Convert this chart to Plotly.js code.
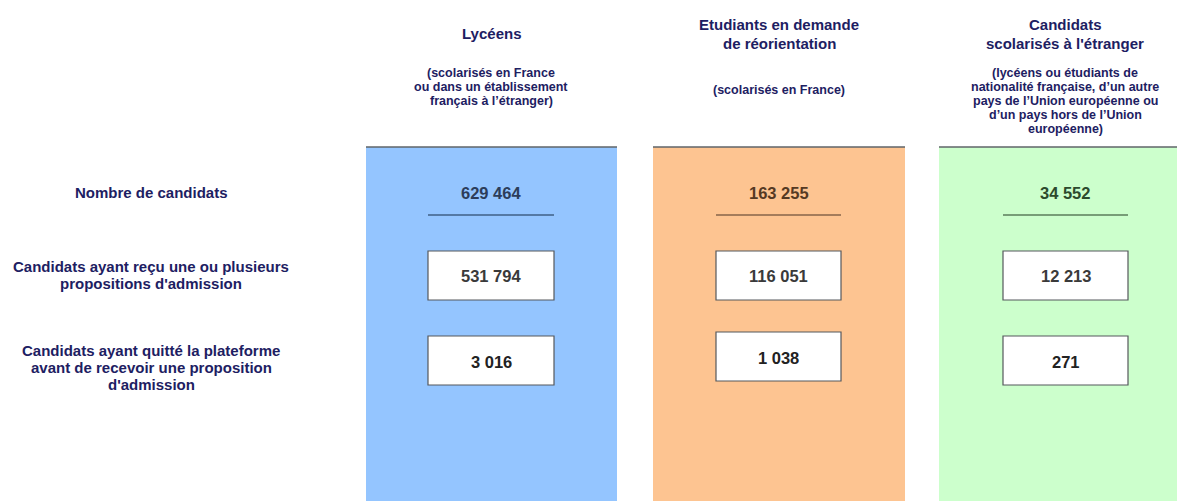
<!DOCTYPE html>
<html>
<head>
<meta charset="utf-8">
<script src="https://cdn.plot.ly/plotly-3.0.1.min.js"></script>
<style>html,body{margin:0;padding:0;background:#fff;}#chart{width:1177px;height:501px;}</style>
</head>
<body>
<div id="chart"></div>
<script>
// ---- Data ----
const groupHeaders = [
  ['Lycéens'],
  ['Etudiants en demande', 'de réorientation'],
  ['Candidats', 'scolarisés à l\'étranger']
];
const groupSubtitles = [
  ['(scolarisés en France', 'ou dans un établissement', 'français à l\u2019étranger)'],
  ['(scolarisés en France)'],
  ['(lycéens ou étudiants de', 'nationalité française, d\u2019un autre', 'pays de l\u2019Union européenne ou', 'd\u2019un pays hors de l\u2019Union', 'européenne)']
];
const rowLabels = [
  ['Nombre de candidats'],
  ['Candidats ayant reçu une ou plusieurs', 'propositions d\'admission'],
  ['Candidats ayant quitté la plateforme', 'avant de recevoir une proposition', 'd\'admission']
];
const nombreCandidats = [629464, 163255, 34552];
const recuProposition = [531794, 116051, 12213];
const quitteAvant = [3016, 1038, 271];

// ---- Styles / layout geometry ----
const W = 1177, H = 501;
const FONT = 'Liberation Sans, Arial, sans-serif';
const colFill = ['#94c5ff', '#fdc491', '#ccffcc'];
const lineCol = ['#3f5f86', '#86654a', '#5b7d5b'];
const numCol = ['#2c3d5a', '#553923', '#2c4a2c'];
const navy = '#1d2062';
const colX0 = [366, 653, 939];
const colX1 = [617, 905, 1190];
const colCenter = [491, 779, 1065];
const boxX0 = [428, 716, 1003];
const boxX1 = [554, 841, 1128];
const box2Y = [[336, 385], [332, 381], [336, 385]];
const colTop = 147;

function fmt(n) { return String(n).replace(/\B(?=(\d{3})+(?!\d))/g, ' '); }

const shapes = [];
const annotations = [];
function addText(x, y, text, size, color, bold) {
  annotations.push({
    x: x, y: y, xref: 'x', yref: 'y', text: bold ? '<b>' + text + '</b>' : text,
    showarrow: false, xanchor: 'center', yanchor: 'middle',
    font: {family: FONT, size: size, color: color}
  });
}

for (let i = 0; i < 3; i++) {
  // column background
  shapes.push({type: 'rect', xref: 'x', yref: 'y', x0: colX0[i], x1: colX1[i], y0: colTop, y1: H + 5,
    fillcolor: colFill[i], line: {width: 0}, layer: 'below'});
  shapes.push({type: 'line', xref: 'x', yref: 'y', x0: colX0[i], x1: colX1[i], y0: colTop, y1: colTop,
    line: {color: '#5f6468', width: 1.5}});
  // headers
  const hl = groupHeaders[i];
  const hy = hl.length === 1 ? [33] : [24, 43];
  hl.forEach((t, k) => addText(colCenter[i], hy[k], t, 15, navy, true));
  const sl = groupSubtitles[i];
  const sy0 = sl.length === 1 ? 90 : 73;
  sl.forEach((t, k) => addText(colCenter[i], sy0 + k * 14, t, 12.5, navy, true));
  // total
  addText(colCenter[i], 193, fmt(nombreCandidats[i]), 16.5, numCol[i], true);
  shapes.push({type: 'line', xref: 'x', yref: 'y', x0: boxX0[i], x1: boxX1[i], y0: 215, y1: 215,
    line: {color: lineCol[i], width: 1.3}});
  // boxes
  shapes.push({type: 'rect', xref: 'x', yref: 'y', x0: boxX0[i], x1: boxX1[i], y0: 251, y1: 300,
    fillcolor: '#ffffff', line: {color: '#55585c', width: 1.2}});
  addText((boxX0[i] + boxX1[i]) / 2, 276, fmt(recuProposition[i]), 16.5, '#3a3a3a', true);
  shapes.push({type: 'rect', xref: 'x', yref: 'y', x0: boxX0[i], x1: boxX1[i], y0: box2Y[i][0], y1: box2Y[i][1],
    fillcolor: '#ffffff', line: {color: '#55585c', width: 1.2}});
  addText((boxX0[i] + boxX1[i]) / 2, (box2Y[i][0] + box2Y[i][1]) / 2 + 1, fmt(quitteAvant[i]), 16.5, '#222222', true);
}

// row labels
const rowY0 = [192, 266, 350];
rowLabels.forEach((lines, r) => {
  lines.forEach((t, k) => addText(151, rowY0[r] + k * 17, t, 15, navy, true));
});

const layout = {
  width: W, height: H,
  margin: {l: 0, r: 0, t: 0, b: 0, pad: 0},
  paper_bgcolor: '#ffffff', plot_bgcolor: '#ffffff',
  showlegend: false,
  xaxis: {range: [0, W], visible: false, fixedrange: true},
  yaxis: {range: [H, 0], visible: false, fixedrange: true},
  shapes: shapes,
  annotations: annotations
};

Plotly.newPlot('chart', [{x: [0], y: [0], mode: 'markers', marker: {opacity: 0}, hoverinfo: 'skip'}], layout,
  {displayModeBar: false, staticPlot: true});
</script>
</body>
</html>
